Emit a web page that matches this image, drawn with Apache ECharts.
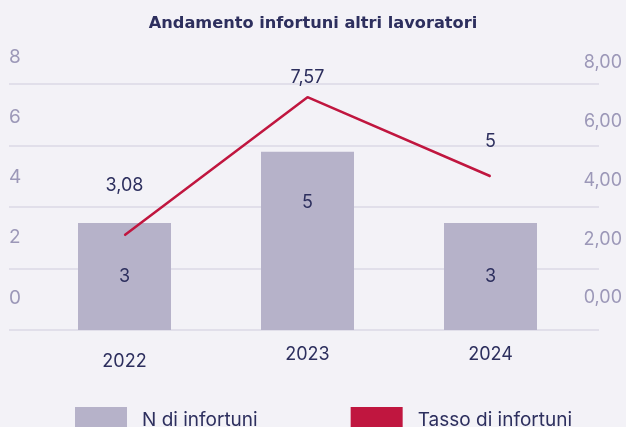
<!DOCTYPE html>
<html>
<head>
<meta charset="utf-8">
<script src="https://cdn.jsdelivr.net/npm/echarts@6/dist/echarts.min.js"></script>
<style>
  html, body { margin: 0; background: #f3f2f7; }
  #chart { width: 626px; height: 427px; }
</style>
</head>
<body>
<div id="chart"></div>
<script>
const years = ['2022', '2023', '2024']
const nInfortuni = [3, 5, 3]
const tassoInfortuni = [3.08, 7.57, 5]
const leftTicks = [0, 2, 4, 6, 8]
const rightTicks = [0, 2, 4, 6, 8]

const navy = '#2d2f5e'
const grey = '#9c98b8'
const barColor = '#b6b2c9'
const red = '#c0163f'
const font = 'Inter'

const comma = (v) => String(v).replace('.', ',')

// label tweaks per point, to follow the original layout
const lineLabelDist = [40, 10, 25]
const barLabelPos = [
  { position: 'inside' },
  { position: 'insideTop', distance: 42 },
  { position: 'inside' }
]

const hiddenAxis = (grid) => ({ gridIndex: grid, type: 'category', data: years, show: false })

const chart = echarts.init(document.getElementById('chart'))

chart.setOption({
  backgroundColor: '#f3f2f7',
  textStyle: { fontFamily: font },
  title: {
    text: 'Andamento infortuni altri lavoratori',
    left: 'center',
    top: 11,
    textStyle: { color: navy, fontSize: 16.2, fontWeight: 'bold', fontFamily: 'DejaVu Sans' }
  },
  legend: {
    left: 75,
    top: 407,
    padding: 0,
    itemWidth: 52,
    itemHeight: 26,
    itemGap: 93,
    textStyle: { color: navy, fontSize: 19, padding: [4, 0, 0, 10] },
    data: [
      { name: 'N di infortuni', icon: 'rect' },
      { name: 'Tasso di infortuni', icon: 'rect', itemStyle: { color: red } }
    ]
  },
  grid: [
    // split lines
    { left: 9, right: 27, top: 84, bottom: 97 },
    // data
    { left: 33, right: 44, top: 84, bottom: 97 },
    // left tick labels, sitting above the lines
    { left: 9, right: 27, top: 57, bottom: 129 },
    // right tick labels
    { left: 9, right: 4, top: 63, bottom: 129 }
  ],
  xAxis: [
    hiddenAxis(0),
    {
      gridIndex: 1,
      type: 'category',
      data: years.map((y, i) => ({
        value: y,
        textStyle: { padding: i === 0 ? [7, 0, 0, 0] : 0 }
      })),
      axisLine: { show: false },
      axisTick: { show: false },
      axisLabel: { color: navy, fontSize: 18, margin: 16 }
    },
    hiddenAxis(2),
    hiddenAxis(3)
  ],
  yAxis: [
    {
      gridIndex: 0,
      type: 'value',
      min: leftTicks[0],
      max: leftTicks[leftTicks.length - 1],
      interval: leftTicks[1] - leftTicks[0],
      axisLine: { show: false },
      axisTick: { show: false },
      axisLabel: { show: false },
      splitLine: { lineStyle: { color: '#dbd9e6', width: 1.5 } }
    },
    { gridIndex: 1, type: 'value', min: 0, max: 6.9, show: false },
    { gridIndex: 1, type: 'value', min: 0, max: 8, show: false },
    {
      gridIndex: 2,
      type: 'value',
      min: leftTicks[0],
      max: leftTicks[leftTicks.length - 1],
      interval: leftTicks[1] - leftTicks[0],
      axisLine: { show: false },
      axisTick: { show: false },
      splitLine: { show: false },
      axisLabel: { inside: true, margin: 0, color: grey, fontSize: 19 }
    },
    {
      gridIndex: 3,
      type: 'value',
      position: 'right',
      min: rightTicks[0],
      max: rightTicks[rightTicks.length - 1],
      interval: rightTicks[1] - rightTicks[0],
      axisLine: { show: false },
      axisTick: { show: false },
      splitLine: { show: false },
      axisLabel: {
        inside: true,
        margin: 0,
        color: grey,
        fontSize: 18,
        formatter: (v) => v.toFixed(2).replace('.', ',')
      }
    }
  ],
  series: [
    {
      name: 'N di infortuni',
      type: 'bar',
      xAxisIndex: 1,
      yAxisIndex: 1,
      barWidth: 93,
      itemStyle: { color: barColor },
      label: { show: true, color: navy, fontSize: 18 },
      data: nInfortuni.map((v, i) => ({ value: v, label: barLabelPos[i] }))
    },
    {
      name: 'Tasso di infortuni',
      type: 'line',
      xAxisIndex: 1,
      yAxisIndex: 2,
      symbol: 'circle',
      symbolSize: 1,
      lineStyle: { color: red, width: 2.5 },
      itemStyle: { color: red },
      label: { show: true, position: 'top', color: navy, fontSize: 18, formatter: (p) => comma(p.value) },
      data: tassoInfortuni.map((v, i) => ({ value: v, label: { distance: lineLabelDist[i] } }))
    }
  ]
})
</script>
</body>
</html>
